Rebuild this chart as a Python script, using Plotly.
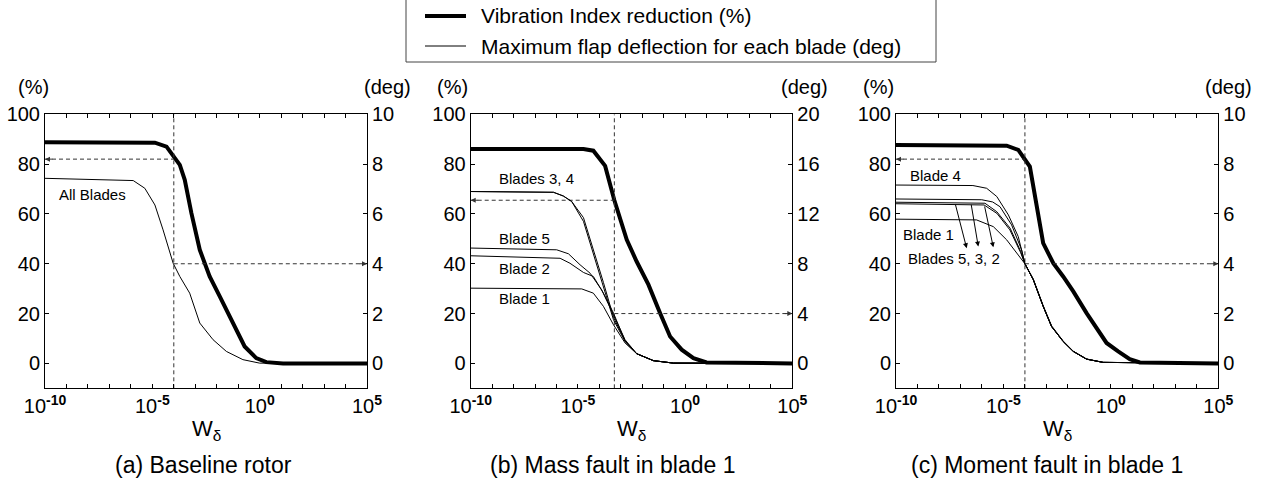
import plotly.graph_objects as go

W, H = 1271, 482
FONT = "Liberation Sans, Arial, Helvetica, sans-serif"

# ---------------- data (x given as log10 of W_delta) ----------------
# (a) Baseline rotor
a_vib_logw = [-10, -4.88, -4.34, -3.72, -3.49, -3.18, -2.79, -2.33, -1.86, -1.24, -0.70, -0.16, 0.31, 1.09, 5]
a_vib = [88.8, 88.6, 87.0, 79.7, 73.7, 60.3, 45.6, 34.9, 26.9, 16.2, 6.8, 2.1, 0.5, 0.0, 0.0]
a_flap_logw = [-10, -5.89, -5.35, -4.88, -4.50, -4.03, -3.72, -3.26, -2.79, -2.17, -1.55, -0.78, 0.0, 5]
a_flap_all = [7.43, 7.34, 7.03, 6.36, 5.36, 4.02, 3.49, 2.82, 1.62, 0.95, 0.48, 0.15, 0.01, 0.0]
a_opt_logw = -4.0
a_vib_opt = 82.0
a_flap_opt = 4.0

# (b) Mass fault in blade 1
b_vib_logw = [-10, -4.74, -4.28, -3.73, -3.30, -2.72, -2.26, -1.71, -1.17, -0.70, -0.16, 0.39, 1.0, 5]
b_vib = [86.1, 86.1, 85.4, 79.3, 65.5, 49.6, 40.9, 31.6, 20.2, 10.8, 5.5, 2.1, 0.4, 0.0]
b_b34_logw = [-10, -6.14, -5.68, -5.29, -4.74, -4.28, -3.81, -3.34, -2.80, -2.26, -1.48, -0.54, 5]
b_blade3 = [13.8, 13.74, 13.44, 13.0, 11.4, 8.86, 6.18, 3.5, 1.76, 0.78, 0.22, 0.02, 0.0]
b_blade4 = [13.8, 13.74, 13.44, 13.0, 11.7, 9.2, 6.5, 3.7, 1.8, 0.78, 0.22, 0.02, 0.0]
b_b5_logw = [-10, -5.99, -5.44, -4.90, -4.43, -3.89, -3.42, -2.80, -2.26, -1.48, -0.54, 5]
b_blade5 = [9.26, 9.12, 8.8, 7.92, 7.24, 5.9, 4.18, 1.9, 0.78, 0.22, 0.02, 0.0]
b_b2_logw = [-10, -5.83, -5.37, -4.74, -4.28, -3.81, -3.34, -2.80, -2.26, -1.48, -0.54, 5]
b_blade2 = [8.64, 8.44, 8.04, 7.3, 6.98, 5.64, 4.04, 1.8, 0.78, 0.22, 0.02, 0.0]
b_b1_logw = [-10, -4.82, -4.28, -3.81, -3.34, -2.80, -2.26, -1.48, -0.54, 5]
b_blade1 = [6.04, 5.98, 5.64, 4.58, 3.1, 1.64, 0.78, 0.22, 0.02, 0.0]
b_opt_logw = -3.3
b_vib_opt = 65.5
b_flap_opt = 4.0

# (c) Moment fault in blade 1
c_vib_logw = [-10, -4.85, -4.31, -3.77, -3.15, -2.68, -2.22, -1.75, -1.13, -0.20, 0.34, 0.88, 1.35, 5]
c_vib = [87.7, 87.4, 85.7, 79.0, 48.3, 40.2, 34.9, 28.9, 20.2, 8.2, 4.8, 1.7, 0.4, 0.0]
c_b4_logw = [-10, -6.42, -5.78, -5.31, -4.77, -4.31, -4.0, -3.61, -3.15, -2.76, -2.22, -1.75, -1.13, -0.36, 5]
c_blade4 = [7.16, 7.14, 7.03, 6.70, 5.96, 5.09, 4.0, 3.38, 2.32, 1.51, 0.90, 0.49, 0.18, 0.04, 0.0]
c_b5_logw = [-10, -6.01, -5.50, -5.16, -4.62, -4.15, -4.0, -3.61, -3.15, -2.76, -2.22, -1.75, -1.13, -0.36, 5]
c_blade5 = [6.60, 6.57, 6.48, 6.29, 5.56, 4.55, 4.0, 3.36, 2.29, 1.48, 0.88, 0.48, 0.17, 0.04, 0.0]
c_b3_logw = [-10, -5.86, -5.31, -4.69, -4.20, -4.0, -3.61, -3.15, -2.76, -2.22, -1.75, -1.13, -0.36, 5]
c_blade3 = [6.47, 6.43, 6.09, 5.43, 4.50, 4.0, 3.36, 2.29, 1.48, 0.88, 0.48, 0.17, 0.04, 0.0]
c_b2_logw = [-10, -5.90, -5.30, -4.70, -4.20, -4.0, -3.61, -3.15, -2.76, -2.22, -1.75, -1.13, -0.36, 5]
c_blade2 = [6.41, 6.36, 6.02, 5.36, 4.45, 4.0, 3.36, 2.29, 1.48, 0.88, 0.48, 0.17, 0.04, 0.0]
c_b1_logw = [-10, -6.25, -5.47, -4.85, -4.31, -4.0, -3.61, -3.15, -2.76, -2.22, -1.75, -1.13, -0.36, 5]
c_blade1 = [5.79, 5.76, 5.49, 4.96, 4.35, 4.0, 3.36, 2.29, 1.48, 0.88, 0.48, 0.17, 0.04, 0.0]
c_opt_logw = -4.0
c_vib_opt = 82.0
c_flap_opt = 4.0

# axis ticks
pct_ticks = [0, 20, 40, 60, 80, 100]
deg_ticks_10 = [0, 2, 4, 6, 8, 10]
deg_ticks_20 = [0, 4, 8, 12, 16, 20]
x_decades = list(range(-10, 6))
x_major = [-10, -5, 0, 5]
x_major_text = ["10<sup><b>-10</b></sup>", "10<sup><b>-5</b></sup>", "10<sup><b>0</b></sup>", "10<sup><b>5</b></sup>"]

panel_titles = ["(a) Baseline rotor", "(b) Mass fault in blade 1", "(c) Moment fault in blade 1"]
legend_labels = ["Vibration Index reduction (%)", "Maximum flap deflection for each blade (deg)"]


def w(logs):
    return [10.0 ** v for v in logs]


panels = [
    dict(vib=(a_vib_logw, a_vib), flaps=[(a_flap_logw, a_flap_all)],
         opt=(a_opt_logw, a_vib_opt, a_flap_opt), deg_ticks=deg_ticks_10, deg_max=10),
    dict(vib=(b_vib_logw, b_vib),
         flaps=[(b_b34_logw, b_blade3), (b_b34_logw, b_blade4), (b_b5_logw, b_blade5),
                (b_b2_logw, b_blade2), (b_b1_logw, b_blade1)],
         opt=(b_opt_logw, b_vib_opt, b_flap_opt), deg_ticks=deg_ticks_20, deg_max=20),
    dict(vib=(c_vib_logw, c_vib),
         flaps=[(c_b4_logw, c_blade4), (c_b5_logw, c_blade5), (c_b3_logw, c_blade3),
                (c_b2_logw, c_blade2), (c_b1_logw, c_blade1)],
         opt=(c_opt_logw, c_vib_opt, c_flap_opt), deg_ticks=deg_ticks_10, deg_max=10),
]

# pixel geometry of the three axes boxes
x_px = [(45, 367), (470.7, 792.3), (896, 1218.3)]
y_top, y_bot = 114.3, 388.3
ydom = [1 - y_bot / H, 1 - y_top / H]


def px(x):
    return x / W


def py(y):
    return 1 - y / H


fig = go.Figure()
layout = dict(
    width=W, height=H, margin=dict(l=0, r=0, t=0, b=0),
    plot_bgcolor="white", paper_bgcolor="white",
    font=dict(family=FONT, size=20, color="black"),
    showlegend=False,
)
annotations = []
shapes = []
dash = "4px,3px"
dcol = "#333333"

for i, p in enumerate(panels):
    xa = "x" if i == 0 else f"x{i + 1}"
    yl_n, yr_n = 2 * i + 1, 2 * i + 2
    yl = "y" if yl_n == 1 else f"y{yl_n}"
    yr = f"y{yr_n}"
    x0p, x1p = x_px[i]

    layout["xaxis" if i == 0 else f"xaxis{i + 1}"] = dict(
        type="log", range=[-10, 5], domain=[px(x0p), px(x1p)], anchor=yl,
        showline=True, linecolor="black", linewidth=1, mirror="ticks",
        ticks="inside", ticklen=4, tickcolor="black",
        tickvals=w(x_major), ticktext=x_major_text,
        minor=dict(tickvals=w(x_decades), ticks="inside", ticklen=4, tickcolor="black", showgrid=False),
        tickfont=dict(size=20), showgrid=False, zeroline=False, automargin=False,
    )
    layout["yaxis" if yl_n == 1 else f"yaxis{yl_n}"] = dict(
        range=[-10, 100], domain=ydom, anchor=xa,
        showline=True, linecolor="black", linewidth=1, mirror=True,
        ticks="inside", ticklen=4, tickcolor="black", tickvals=pct_ticks,
        tickfont=dict(size=20), showgrid=False, zeroline=False, automargin=False,
    )
    dmax = p["deg_max"]
    layout[f"yaxis{yr_n}"] = dict(
        range=[-dmax / 10, dmax], overlaying=yl, side="right", anchor=xa,
        showline=True, linecolor="black", linewidth=1,
        ticks="inside", ticklen=4, tickcolor="black", tickvals=p["deg_ticks"],
        tickfont=dict(size=20), showgrid=False, zeroline=False, automargin=False,
    )

    # flap deflection curves (right axis)
    for lw, deg in p["flaps"]:
        fig.add_trace(go.Scatter(x=w(lw), y=deg, mode="lines", xaxis=xa, yaxis=yr,
                                 line=dict(color="black", width=1), hoverinfo="skip"))
    # vibration index reduction (left axis)
    lw, vib = p["vib"]
    fig.add_trace(go.Scatter(x=w(lw), y=vib, mode="lines", xaxis=xa, yaxis=yl,
                             line=dict(color="black", width=4), hoverinfo="skip"))

    # dashed guides at the selected weighting
    ol, ov, od = p["opt"]
    fig.add_trace(go.Scatter(x=w([ol, ol]), y=[-10, 100], mode="lines", xaxis=xa, yaxis=yl,
                             line=dict(color=dcol, width=1, dash=dash), hoverinfo="skip"))
    fig.add_trace(go.Scatter(x=w([-10, ol]), y=[ov, ov], mode="lines", xaxis=xa, yaxis=yl,
                             line=dict(color=dcol, width=1, dash=dash), hoverinfo="skip"))
    fig.add_trace(go.Scatter(x=w([ol, 5]), y=[od, od], mode="lines", xaxis=xa, yaxis=yr,
                             line=dict(color=dcol, width=1, dash=dash), hoverinfo="skip"))
    annotations.append(dict(x=-10, y=ov, xref=xa, yref=yl, ax=9, ay=0, text="",
                            showarrow=True, arrowhead=2, arrowsize=1, arrowwidth=1,
                            arrowcolor=dcol, standoff=0))
    annotations.append(dict(x=5, y=od, xref=xa, yref=yr, ax=-9, ay=0, text="",
                            showarrow=True, arrowhead=2, arrowsize=1, arrowwidth=1,
                            arrowcolor=dcol, standoff=0))

# axis unit labels, x-axis titles, panel titles
pct_lbl_x = [33, 453, 878]
deg_lbl_x = [387, 805, 1228]
title_x = [203.5, 612.5, 1047]
ctr = dict(xref="paper", yref="paper", showarrow=False, xanchor="center", yanchor="middle")
for i in range(3):
    annotations.append(dict(x=px(pct_lbl_x[i]), y=py(87), text="(%)", font=dict(size=20), **ctr))
    annotations.append(dict(x=px(deg_lbl_x[i]), y=py(87), text="(deg)", font=dict(size=20), **ctr))
    cx = (x_px[i][0] + x_px[i][1]) / 2
    annotations.append(dict(x=px(cx), y=py(430), text="W<sub>δ</sub>", font=dict(size=22), **ctr))
    annotations.append(dict(x=px(title_x[i]), y=py(465), text=panel_titles[i], font=dict(size=23), **ctr))

# curve labels
lab = dict(showarrow=False, font=dict(size=15), xanchor="left", yanchor="middle")
annotations += [
    dict(x=-9.46, y=67.9, xref="x", yref="y", text="All Blades", **lab),
    dict(x=-8.79, y=74.1, xref="x2", yref="y3", text="Blades 3, 4", **lab),
    dict(x=-8.79, y=50.0, xref="x2", yref="y3", text="Blade 5", **lab),
    dict(x=-8.79, y=38.0, xref="x2", yref="y3", text="Blade 2", **lab),
    dict(x=-8.79, y=25.9, xref="x2", yref="y3", text="Blade 1", **lab),
    dict(x=-9.43, y=75.3, xref="x3", yref="y5", text="Blade 4", **lab),
    dict(x=-9.77, y=51.6, xref="x3", yref="y5", text="Blade 1", **lab),
    dict(x=-9.55, y=42.0, xref="x3", yref="y5", text="Blades 5, 3, 2", **lab),
]
# pointers from the clustered curves to their label
for (xs, ys, xe, ye) in [(-7.25, 64.3, -6.71, 46.2), (-6.51, 64.3, -6.17, 46.9), (-5.89, 63.6, -5.47, 46.6)]:
    annotations.append(dict(x=xe, y=ye, ax=xs, ay=ys, xref="x3", yref="y5", axref="x3", ayref="y5",
                            text="", showarrow=True, arrowhead=2, arrowsize=1, arrowwidth=1,
                            arrowcolor="black", standoff=0))

# legend box
shapes.append(dict(type="rect", xref="paper", yref="paper", x0=px(406), x1=px(936), y0=py(62), y1=py(-2),
                   line=dict(color="#444444", width=1), fillcolor="white"))
shapes.append(dict(type="line", xref="paper", yref="paper", x0=px(425), x1=px(466), y0=py(16), y1=py(16),
                   line=dict(color="black", width=4)))
shapes.append(dict(type="line", xref="paper", yref="paper", x0=px(425), x1=px(466), y0=py(46), y1=py(46),
                   line=dict(color="black", width=1)))
leg = dict(xref="paper", yref="paper", showarrow=False, xanchor="left", yanchor="middle", font=dict(size=21))
annotations.append(dict(x=px(479), y=py(16), text=legend_labels[0], **leg))
annotations.append(dict(x=px(479), y=py(46), text=legend_labels[1], **leg))

layout["annotations"] = annotations
layout["shapes"] = shapes
fig.update_layout(**layout)
fig.write_html("out.html")
